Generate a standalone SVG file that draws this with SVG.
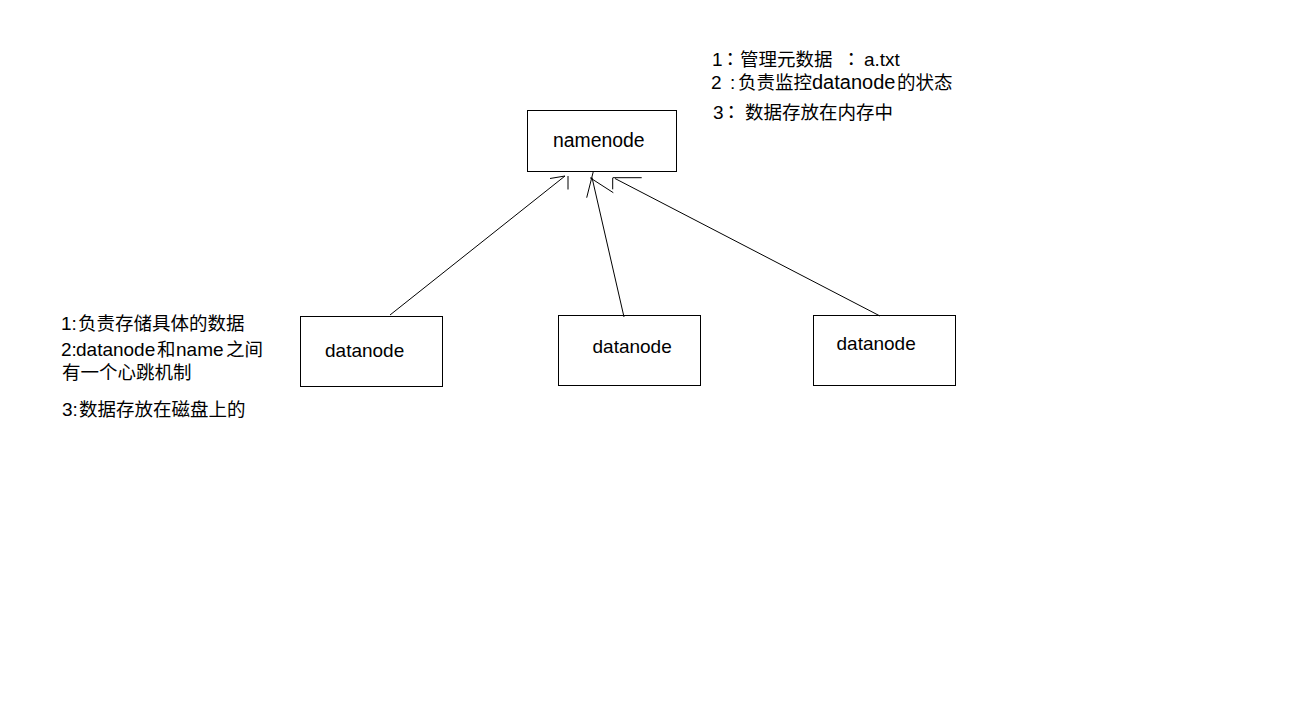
<svg xmlns="http://www.w3.org/2000/svg" width="1298" height="719" viewBox="0 0 1298 719">
<style>
.box{fill:#fff;stroke:#000;stroke-width:1}
.ln{fill:none;stroke:#000;stroke-width:1}
text{font-family:"Liberation Sans","Noto Sans CJK SC",sans-serif;font-size:19px;fill:#000}
.c{font-size:18.5px}
.p{font-size:18.5px;font-family:"Noto Sans CJK JP","Noto Sans CJK TC",sans-serif}
.nn{font-size:19.4px}
</style>
<rect width="1298" height="719" fill="#fff"/>
<g id="namenode">
<rect class="box" x="527.5" y="110.5" width="149" height="61"/>
<text class="nn" x="553" y="146.5">namenode</text>
</g>
<g id="datanode1">
<rect class="box" x="300.5" y="316.5" width="142" height="70"/>
<text x="325" y="357">datanode</text>
</g>
<g id="datanode2">
<rect class="box" x="558.5" y="315.5" width="142" height="70"/>
<text x="592.5" y="352.5">datanode</text>
</g>
<g id="datanode3">
<rect class="box" x="813.5" y="315.5" width="142" height="70"/>
<text x="836.5" y="349.5">datanode</text>
</g>
<g id="connectors">
<path class="ln" d="M390,315 L565,176 M550,178.5 L565,176 M568,176 L568,189.5"/>
<path class="ln" d="M624,317 L592,177.5 M593.3,171.5 L586.7,197.7 M590,177.7 L613.3,192.7"/>
<path class="ln" d="M880,316 L615,178.5 M613,177.7 L641.7,177.7 M612.7,177.7 L612.7,189.3"/>
</g>
<g id="namenode-notes">
<text y="66"><tspan x="712">1</tspan><tspan class="p" x="721">：</tspan><tspan class="c" x="740">管理元数据</tspan><tspan class="p" x="842">：</tspan><tspan x="864">a.txt</tspan></text>
<text y="88.5"><tspan x="711">2</tspan><tspan x="730">:</tspan><tspan class="c" x="738">负责监控</tspan><tspan style="font-size:20px" x="812">datanode</tspan><tspan class="c" x="897">的状态</tspan></text>
<text y="118.5"><tspan x="713">3</tspan><tspan class="p" x="722">：</tspan><tspan class="c" x="745">数据存放在内存中</tspan></text>
</g>
<g id="datanode-notes">
<text y="330"><tspan x="61">1:</tspan><tspan class="c" x="78">负责存储具体的数据</tspan></text>
<text y="355.5"><tspan x="61">2:</tspan><tspan x="76">datanode</tspan><tspan class="c" x="157">和</tspan><tspan x="176">name</tspan><tspan class="c" x="226">之间</tspan></text>
<text y="379"><tspan class="c" x="62">有一个心跳机制</tspan></text>
<text y="415.5"><tspan x="62">3:</tspan><tspan class="c" x="79">数据存放在磁盘上的</tspan></text>
</g>
</svg>
